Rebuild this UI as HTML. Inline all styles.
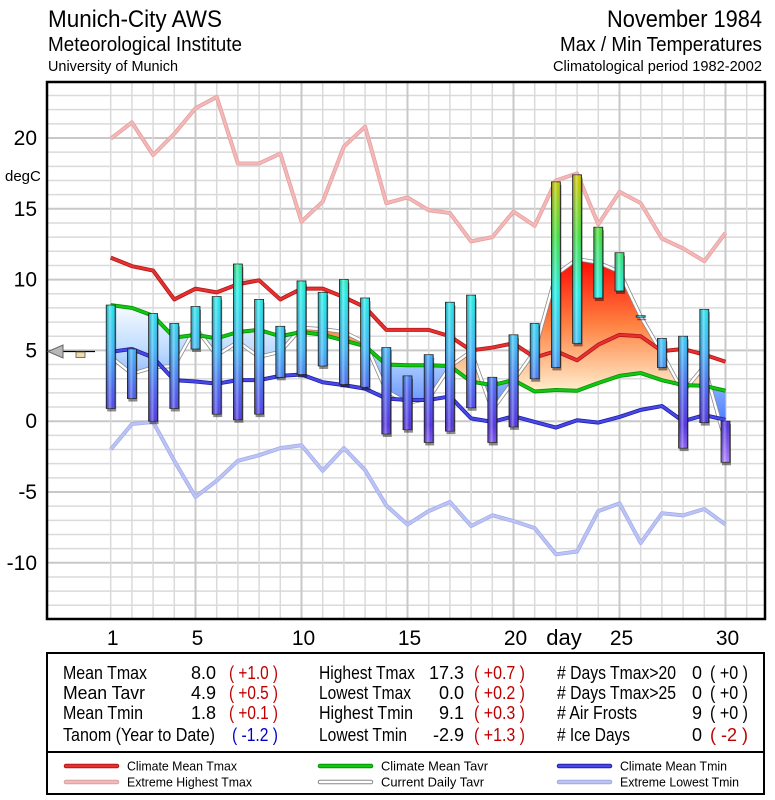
<!DOCTYPE html>
<html><head><meta charset="utf-8">
<style>
html,body{margin:0;padding:0;background:#fff;}
svg{display:block;font-family:"Liberation Sans",Arial,sans-serif;}
</style></head>
<body>
<svg id="chart" width="775" height="800" viewBox="0 0 775 800" xmlns="http://www.w3.org/2000/svg">
<defs>
  <linearGradient id="barGrad" gradientUnits="userSpaceOnUse" x1="0" y1="180" x2="0" y2="462">
    <stop offset="0" stop-color="#c8c800"/>
    <stop offset="0.2" stop-color="#40e040"/>
    <stop offset="0.4" stop-color="#20f0e8"/>
    <stop offset="0.6" stop-color="#40b8f8"/>
    <stop offset="0.75" stop-color="#4c60f0"/>
    <stop offset="0.87" stop-color="#5030e0"/>
    <stop offset="1" stop-color="#a878ff"/>
  </linearGradient>
  <linearGradient id="barShine" x1="0" y1="0" x2="1" y2="0">
    <stop offset="0" stop-color="#000" stop-opacity="0.25"/>
    <stop offset="0.4" stop-color="#fff" stop-opacity="0.35"/>
    <stop offset="0.7" stop-color="#fff" stop-opacity="0"/>
    <stop offset="1" stop-color="#000" stop-opacity="0.3"/>
  </linearGradient>
  <linearGradient id="warmGrad" gradientUnits="userSpaceOnUse" x1="0" y1="255" x2="0" y2="392">
    <stop offset="0" stop-color="#ff0000"/>
    <stop offset="0.5" stop-color="#ff8040"/>
    <stop offset="1" stop-color="#fff0d0"/>
  </linearGradient>
  <linearGradient id="coldGrad" gradientUnits="userSpaceOnUse" x1="0" y1="300" x2="0" y2="420">
    <stop offset="0" stop-color="#ffffff"/>
    <stop offset="0.45" stop-color="#b8d8ff"/>
    <stop offset="1" stop-color="#5080ff"/>
  </linearGradient>
  <clipPath id="aboveClim"><path id="aboveClimPath"/></clipPath>
  <clipPath id="belowClim"><path id="belowClimPath"/></clipPath>
</defs>
<g id="grid"></g>
<g id="fills"></g>
<g id="lines"></g>
<g id="bars"></g>
<rect x="47" y="82" width="718" height="537" fill="none" stroke="#000" stroke-width="2.5"/>
<g id="axes"></g>

<g fill="#000">
  <text x="48" y="27" font-size="24" textLength="174" lengthAdjust="spacingAndGlyphs">Munich-City AWS</text>
  <text x="48" y="51" font-size="20" textLength="194" lengthAdjust="spacingAndGlyphs">Meteorological Institute</text>
  <text x="48" y="71" font-size="15" textLength="130" lengthAdjust="spacingAndGlyphs">University of Munich</text>
</g>
<g fill="#000">
  <text x="607" y="27" font-size="24" textLength="155" lengthAdjust="spacingAndGlyphs">November 1984</text>
  <text x="560" y="51" font-size="20" textLength="202" lengthAdjust="spacingAndGlyphs">Max / Min Temperatures</text>
  <text x="553" y="71" font-size="15" textLength="209" lengthAdjust="spacingAndGlyphs">Climatological period 1982-2002</text>
</g>

<g>
  <line x1="60" y1="351.5" x2="95" y2="351.5" stroke="#000" stroke-width="1.2"/>
  <polygon points="48,351.5 63,345 63,358" fill="#b8b8b8" stroke="#666" stroke-width="1"/>
  <rect x="76" y="352" width="9" height="5.5" fill="#f0dca8" stroke="#555" stroke-width="0.8"/>
</g>

<g>
  <rect x="47" y="653" width="717" height="141" fill="#fff" stroke="#000" stroke-width="2"/>
  <line x1="47" y1="752" x2="764" y2="752" stroke="#000" stroke-width="2"/>
</g>
<g id="stats" font-size="18"></g>
<g id="legend" font-size="13"></g>

<script>
// ---- data ----
const days = [1,2,3,4,5,6,7,8,9,10,11,12,13,14,15,16,17,18,19,20,21,22,23,24,25,26,27,28,29,30];
const tmax = [8.2,5.1,7.6,6.9,8.1,8.8,11.1,8.6,6.7,9.9,9.1,10.0,8.7,5.2,3.2,4.7,8.4,8.9,3.1,6.1,6.9,16.9,17.4,13.7,11.9,7.45,5.85,6.0,7.9,0.0];
const tmin = [0.9,1.6,0.0,0.9,5.1,0.5,0.1,0.5,3.1,3.3,3.9,2.6,2.4,-0.9,-0.6,-1.5,-0.7,0.95,-1.5,-0.4,3.0,3.8,5.5,8.7,9.2,7.35,3.8,-1.9,-0.1,-2.9];
const climTmax = [11.55,10.95,10.64,8.6,9.36,9.1,9.67,9.95,8.6,9.36,9.36,8.76,8.05,6.45,6.45,6.45,6.0,5.0,5.2,5.5,4.5,4.95,4.3,5.4,6.1,6.0,4.95,5.1,4.7,4.2];
const climTavr = [8.2,8.0,7.45,5.9,6.1,5.85,6.3,6.45,6.0,6.3,6.1,5.7,5.3,4.0,3.95,3.95,3.9,2.8,2.55,2.9,2.1,2.2,2.15,2.7,3.2,3.4,2.9,2.55,2.5,2.15];
const climTmin = [4.9,5.1,4.5,2.9,2.8,2.65,2.9,2.9,3.2,3.3,2.75,2.55,2.3,1.6,1.5,1.5,1.75,0.2,-0.05,0.35,-0.05,-0.45,0.07,-0.1,0.3,0.8,1.07,0.0,0.43,0.1];
const extHighTmax = [19.95,21.1,18.8,20.3,22.1,22.9,18.2,18.2,18.9,14.1,15.5,19.4,20.8,15.4,15.8,14.9,14.7,12.7,13.0,14.8,13.8,17.0,17.5,13.9,16.2,15.4,12.9,12.2,11.3,13.3];
const extLowTmin = [-2.0,-0.2,-0.05,-2.8,-5.35,-4.2,-2.8,-2.4,-1.9,-1.7,-3.5,-1.9,-3.45,-5.95,-7.3,-6.35,-5.7,-7.4,-6.65,-7.05,-7.55,-9.4,-9.2,-6.35,-5.8,-8.6,-6.5,-6.65,-6.2,-7.3];
const yTicks = [20,15,10,5,0,-5,-10];
const xTicks = [1,5,10,15,20,25,30];

// ---- scales ----
const X = d => 110.7 + (d - 1) * 21.2;
const Y = v => 421.2 - v * 14.16;
const NS = "http://www.w3.org/2000/svg";
function mk(tag, attrs, parent){const e=document.createElementNS(NS,tag);for(const k in attrs)e.setAttribute(k,attrs[k]);parent.appendChild(e);return e;}

// ---- grid ----
const grid = document.getElementById('grid');
for (let v=-13; v<=23; v++){
  const l = mk('line',{x1:47,x2:765,y1:Y(v),y2:Y(v),stroke: v%5===0?'#c8c8c8':'#dadada','stroke-width':v%5===0?2:1.5},grid);
  
  
}
for (let d=1; d<=31; d++){
  const l = mk('line',{x1:X(d),x2:X(d),y1:82,y2:619,stroke: d%5===0?'#c8c8c8':'#dadada','stroke-width':d%5===0?2:1.5},grid);
  
  
}

// ---- axes labels ----
const axes = document.getElementById('axes');
yTicks.forEach(v=>{
  const t = mk('text',{x:37,y:Y(v)+7,'font-size':21,'text-anchor':'end'},axes);
  t.textContent = v;
  
  
});
const yt = mk('text',{x:5,y:181,'font-size':15},axes);
yt.textContent='degC';


xTicks.forEach(d=>{
  const t = mk('text',{x:X(d)+2,y:645,'font-size':21,'text-anchor':'middle'},axes);
  t.textContent = d;
  
  
});
const xt = mk('text',{x:564,y:645,'font-size':22,'text-anchor':'middle'},axes);
xt.textContent='day';



// ---- fills ----
const tavr = days.map((d,i)=>(tmax[i]+tmin[i])/2);
const climPts = days.map((d,i)=>X(d)+','+Y(climTavr[i]));
const curPts = days.map((d,i)=>X(d)+','+Y(tavr[i]));
document.getElementById('aboveClimPath').setAttribute('d','M'+X(1)+',0 L'+climPts.join(' L')+' L'+X(30)+',0 Z');
document.getElementById('belowClimPath').setAttribute('d','M'+X(1)+',800 L'+climPts.join(' L')+' L'+X(30)+',800 Z');
const fills = document.getElementById('fills');
const areaD = 'M'+curPts.join(' L')+' L'+climPts.slice().reverse().join(' L')+' Z';
const warm = mk('path',{d:areaD,fill:'url(#warmGrad)','clip-path':'url(#aboveClim)'},fills);


const cold = mk('path',{d:areaD,fill:'url(#coldGrad)','clip-path':'url(#belowClim)'},fills);



// ---- lines ----
const lines = document.getElementById('lines');
function series(vals, color, edge, name){
  const p = days.map((d,i)=>X(d)+','+Y(vals[i])).join(' ');
  const g = mk('g',{},lines);
  
  
  mk('polyline',{points:p,fill:'none',stroke:edge,'stroke-width':4,'stroke-linejoin':'round'},g);
  mk('polyline',{points:p,fill:'none',stroke:color,'stroke-width':2.4,'stroke-linejoin':'round'},g);
}
series(extHighTmax,'#f4b8b8','#e4a0a0','extreme-highest-tmax-line');
series(extLowTmin,'#bcc4f4','#a4acec','extreme-lowest-tmin-line');
series(tavr,'#ffffff','#8a8a8a','current-daily-tavr-line');
series(climTmax,'#e83030','#b01818','climate-mean-tmax-line');
series(climTavr,'#10c810','#089008','climate-mean-tavr-line');
series(climTmin,'#4848e8','#2020a8','climate-mean-tmin-line');

// ---- bars ----
const bars = document.getElementById('bars');
days.forEach((d,i)=>{
  const top = Y(tmax[i]), bot = Y(tmin[i]);
  const h = Math.max(bot-top,1.5);
  const g = mk('g',{},bars);
  
  
  mk('rect',{x:X(d)-3.5,y:top+3,width:9,height:h,fill:'#000',opacity:0.45},g);
  mk('rect',{x:X(d)-4.5,y:top,width:9,height:h,fill:'url(#barGrad)',stroke:'#222','stroke-width':0.8},g);
  mk('rect',{x:X(d)-4.5,y:top,width:9,height:h,fill:'url(#barShine)'},g);
});

// ---- stats table ----
const stats = document.getElementById('stats');
const RED='#c00000', BLUE='#0000cc';
const rowsY=[679,699,719,741];
const statLabels1=['Mean Tmax','Mean Tavr','Mean Tmin','Tanom (Year to Date)'];
const statLen1=[84,82,80,152];
const statVals1=['8.0','4.9','1.8',''];
const statAn1=['( +1.0 )','( +0.5 )','( +0.1 )','( -1.2 )'];
const statLabels2=['Highest Tmax','Lowest Tmax','Highest Tmin','Lowest Tmin'];
const statLen2=[96,92,94,88];
const statVals2=['17.3','0.0','9.1','-2.9'];
const statAn2=['( +0.7 )','( +0.2 )','( +0.3 )','( +1.3 )'];
const statLabels3=['# Days Tmax>20','# Days Tmax>25','# Air Frosts','# Ice Days'];
const statLen3=[119,119,80,73];
const statVals3=['0','0','9','0'];
const statAn3=['( +0 )','( +0 )','( +0 )','( -2 )'];
function txt(x,y,s,anchor,color,name,len){
  const a={x:x,y:y,'text-anchor':anchor,fill:color};
  if(len){a.textLength=len;a.lengthAdjust='spacingAndGlyphs';}
  const t=mk('text',a,stats);t.textContent=s;
  
  
}
for(let r=0;r<4;r++){
  const y=rowsY[r];
  txt(63,y,statLabels1[r],'start','#000','stat-label',statLen1[r]);
  if(statVals1[r]) txt(216,y,statVals1[r],'end','#000','stat-value');
  txt(r===3?232:229,y,statAn1[r],'start',r===3?BLUE:RED,'stat-anomaly',r===3?46:49);
  txt(319,y,statLabels2[r],'start','#000','stat-label',statLen2[r]);
  txt(464,y,statVals2[r],'end','#000','stat-value');
  txt(474,y,statAn2[r],'start',RED,'stat-anomaly',51);
  txt(557,y,statLabels3[r],'start','#000','stat-label',statLen3[r]);
  txt(702,y,statVals3[r],'end','#000','stat-value');
  txt(710,y,statAn3[r],'start',r===3?RED:'#000','stat-anomaly',38);
}

// ---- legend ----
const legend = document.getElementById('legend');
const legItems=[
  [66,766,'#e83030','#b01818','Climate Mean Tmax',110],
  [66,782,'#f4b8b8','#d8a0a0','Extreme Highest Tmax',125],
  [320,766,'#10c810','#089008','Climate Mean Tavr',107],
  [320,782,'#ffffff','#888888','Current Daily Tavr',103],
  [559,766,'#4848e8','#2020a8','Climate Mean Tmin',107],
  [559,782,'#bcc4f4','#a0a8e0','Extreme Lowest Tmin',119]];
legItems.forEach(it=>{
  const g=mk('g',{},legend);
  
  
  mk('line',{x1:it[0],x2:it[0]+51,y1:it[1],y2:it[1],stroke:it[3],'stroke-width':4.5,'stroke-linecap':'round'},g);
  mk('line',{x1:it[0],x2:it[0]+51,y1:it[1],y2:it[1],stroke:it[2],'stroke-width':2.5,'stroke-linecap':'round'},g);
  const t=mk('text',{x:it[0]+61,y:it[1]+4.5,textLength:it[5],lengthAdjust:'spacingAndGlyphs'},g);
  t.textContent=it[4];
});
</script>
</svg>
</body></html>
